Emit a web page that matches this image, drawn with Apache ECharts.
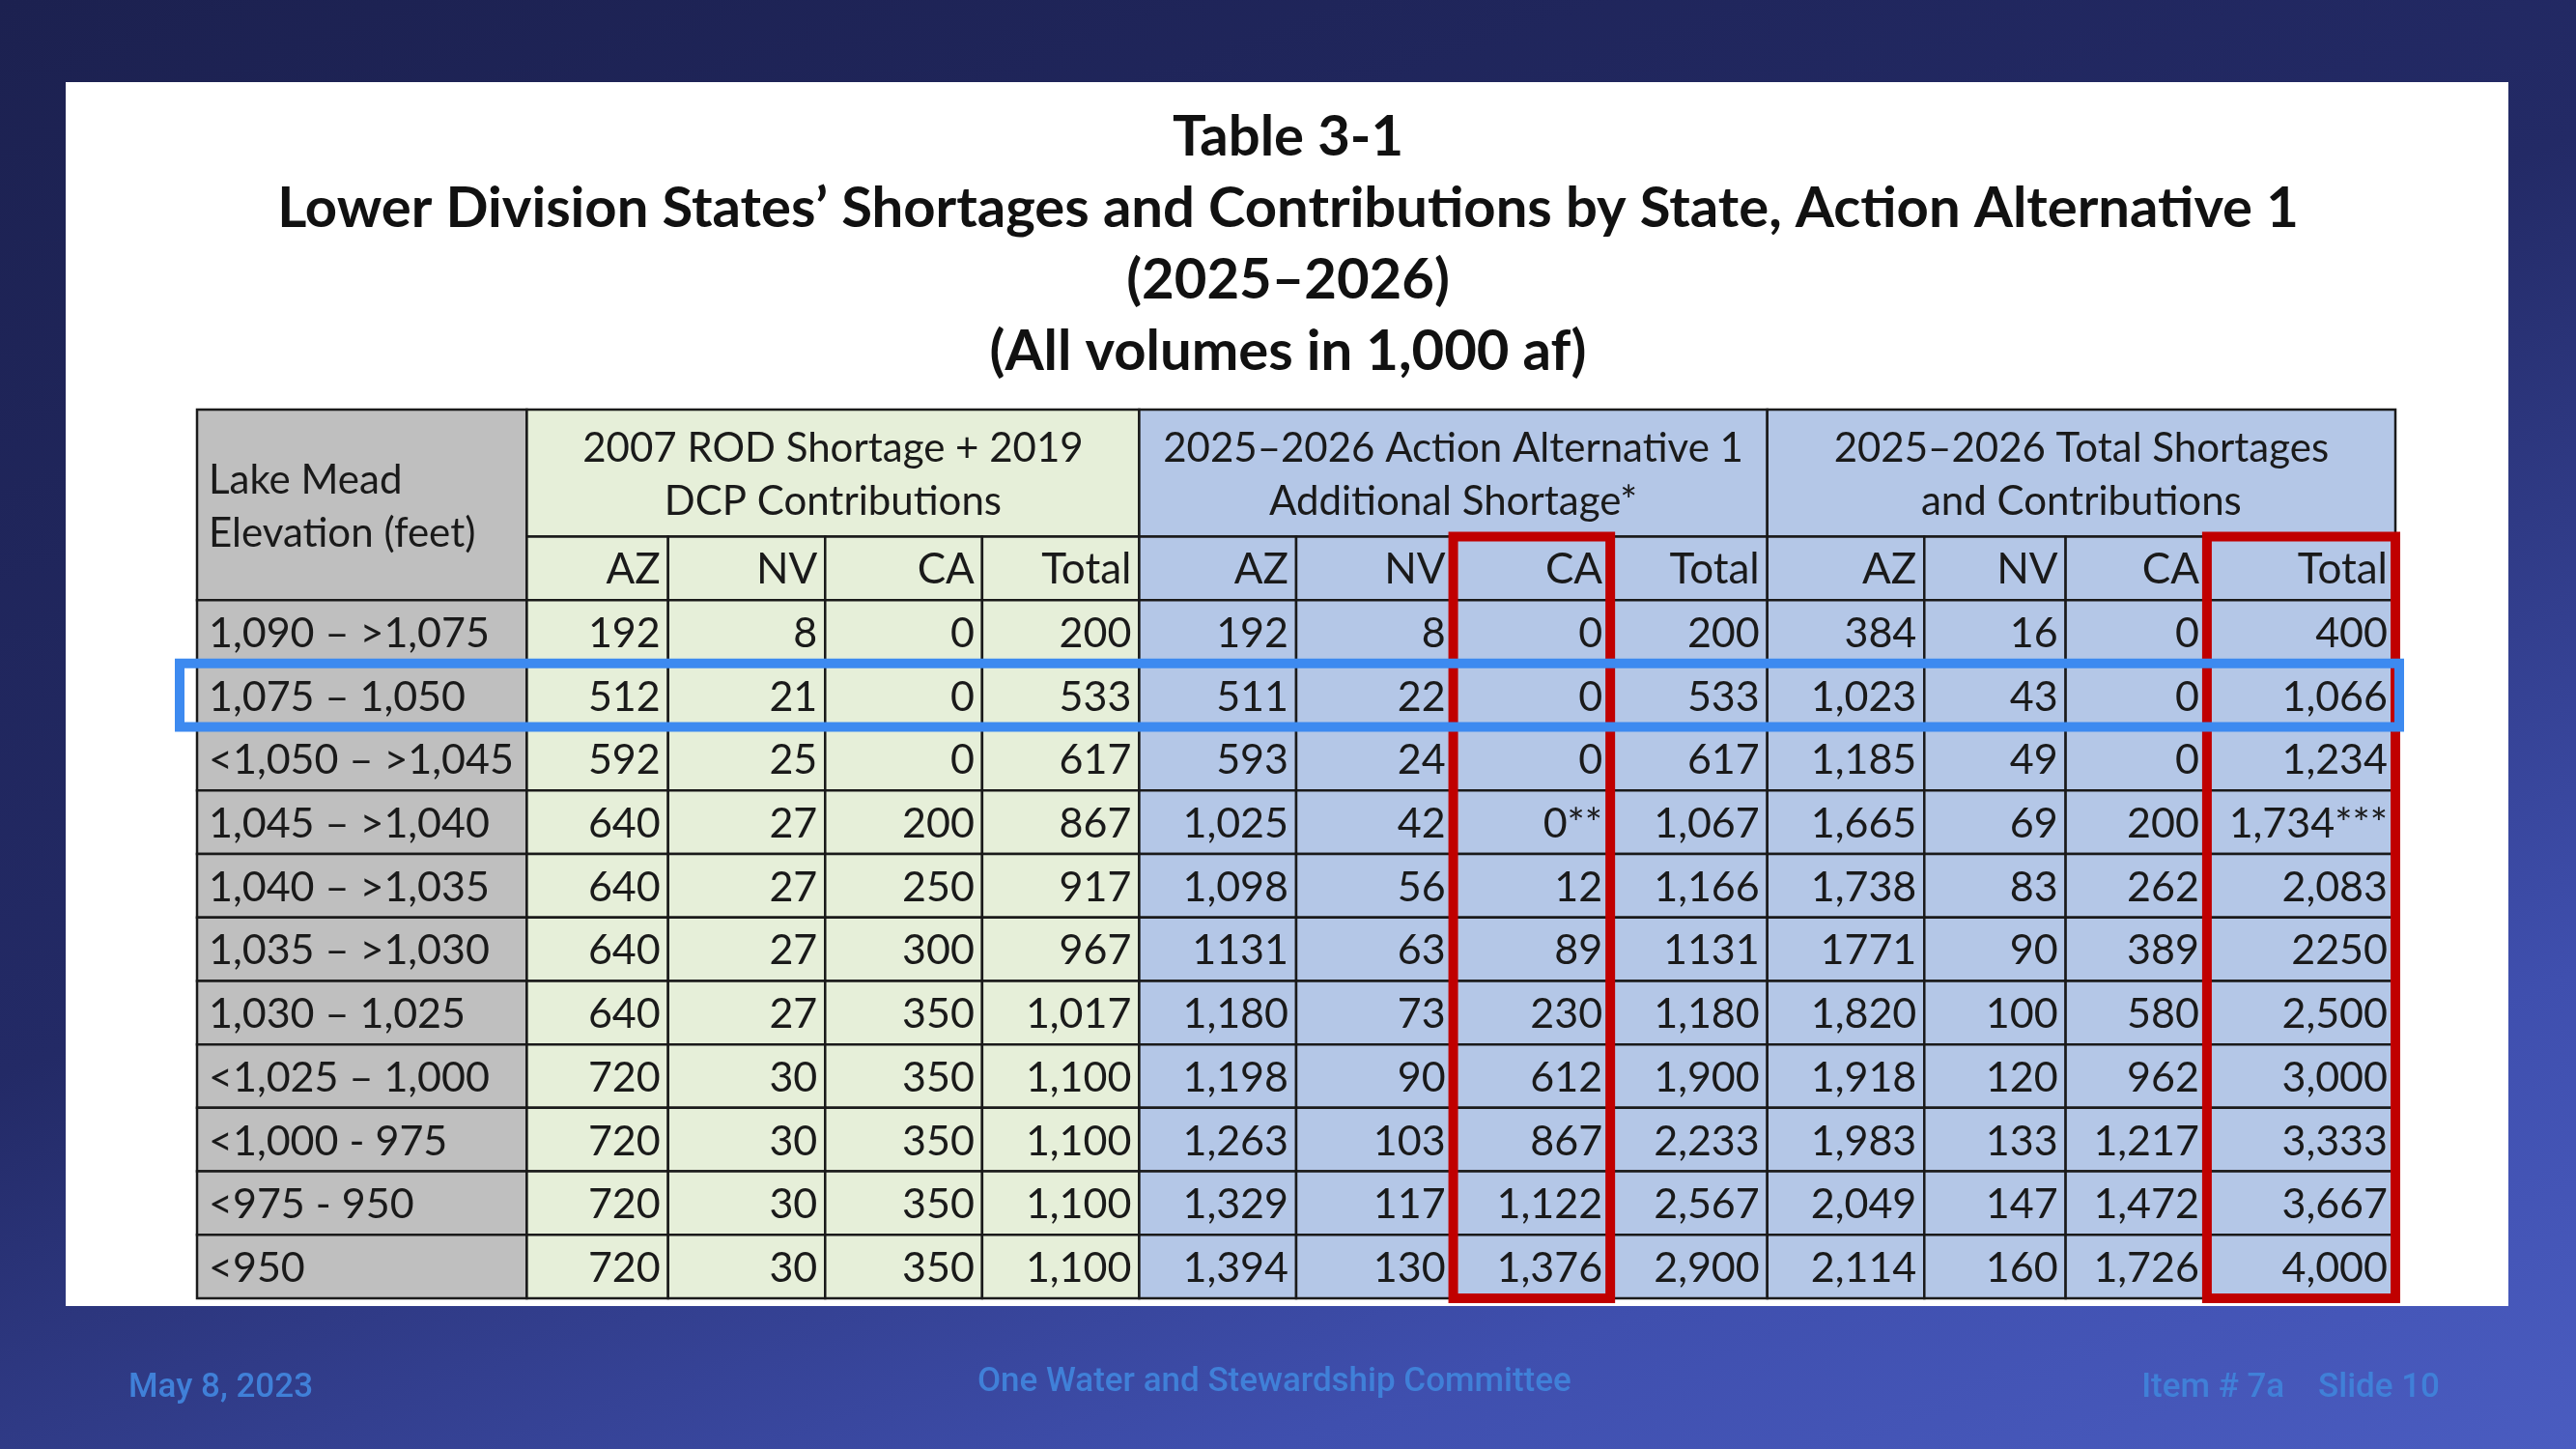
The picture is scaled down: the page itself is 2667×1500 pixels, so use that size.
<!DOCTYPE html>
<html>
<head>
<meta charset="utf-8">
<script src="https://cdn.jsdelivr.net/npm/echarts@6/dist/echarts.min.js"></script>
<style>
html,body{margin:0;padding:0;width:2667px;height:1500px;overflow:hidden;
background:linear-gradient(160deg,#1c2150 0%,#232a66 45%,#3f4fae 80%,#4a5cc0 100%);}
#panel{position:absolute;left:68px;top:85px;width:2529px;height:1267px;background:#fff;}
#main{position:absolute;left:0;top:0;width:2667px;height:1500px;}
</style>
</head>
<body>
<div id="panel"></div>
<div id="main"></div>
<script>
var titleLines = ['Table 3-1', 'Lower Division States\u2019 Shortages and Contributions by State, Action Alternative 1', '(2025\u20132026)', '(All volumes in 1,000 af)'];
var groupHeads = ['2007 ROD Shortage + 2019\nDCP Contributions', '2025\u20132026 Action Alternative 1\nAdditional Shortage*', '2025\u20132026 Total Shortages\nand Contributions'];
var subHeads = ['AZ', 'NV', 'CA', 'Total'];
var elevations = ['1,090 \u2013 >1,075', '1,075 \u2013 1,050', '<1,050 \u2013 >1,045', '1,045 \u2013 >1,040', '1,040 \u2013 >1,035', '1,035 \u2013 >1,030', '1,030 \u2013 1,025', '<1,025 \u2013 1,000', '<1,000 - 975', '<975 - 950', '<950'];
var rodAZ = ['192', '512', '592', '640', '640', '640', '640', '720', '720', '720', '720'];
var rodNV = ['8', '21', '25', '27', '27', '27', '27', '30', '30', '30', '30'];
var rodCA = ['0', '0', '0', '200', '250', '300', '350', '350', '350', '350', '350'];
var rodTotal = ['200', '533', '617', '867', '917', '967', '1,017', '1,100', '1,100', '1,100', '1,100'];
var altAZ = ['192', '511', '593', '1,025', '1,098', '1131', '1,180', '1,198', '1,263', '1,329', '1,394'];
var altNV = ['8', '22', '24', '42', '56', '63', '73', '90', '103', '117', '130'];
var altCA = ['0', '0', '0', '0**', '12', '89', '230', '612', '867', '1,122', '1,376'];
var altTotal = ['200', '533', '617', '1,067', '1,166', '1131', '1,180', '1,900', '2,233', '2,567', '2,900'];
var totAZ = ['384', '1,023', '1,185', '1,665', '1,738', '1771', '1,820', '1,918', '1,983', '2,049', '2,114'];
var totNV = ['16', '43', '49', '69', '83', '90', '100', '120', '133', '147', '160'];
var totCA = ['0', '0', '0', '200', '262', '389', '580', '962', '1,217', '1,472', '1,726'];
var totTotal = ['400', '1,066', '1,234', '1,734***', '2,083', '2250', '2,500', '3,000', '3,333', '3,667', '4,000'];

var groups = [[rodAZ, rodNV, rodCA, rodTotal], [altAZ, altNV, altCA, altTotal], [totAZ, totNV, totCA, totTotal]];
var fills = ['#e6efd9', '#b4c7e7', '#b4c7e7'];
var gray = '#bfbfbf';

// column widths in narrow x-axis units (label column first)
var colUnits = [21, 9, 10, 10, 10, 10, 10, 10, 10, 10, 9, 9, 12];
var colStart = [0];
colUnits.forEach(function (u, k) { colStart.push(colStart[k] + u); });
var xCats = [];
for (var i = 0; i < colStart[colUnits.length]; i++) xCats.push('c' + i);
var yCats = [];
for (var j = 0; j < 14; j++) yCats.push('r' + j);

function span(c0, n) { return colStart[c0 + n] - colStart[c0]; }

// cells: [x, y, xSpan, ySpan, text, fill, align, size]
var cells = [];
cells.push([0, 0, colUnits[0], 3, 'Lake Mead\nElevation (feet)', gray, 'left', 42]);
groups.forEach(function (g, gi) {
    var c0 = 1 + gi * 4;
    cells.push([colStart[c0], 0, span(c0, 4), 2, groupHeads[gi], fills[gi], 'center', 42]);
    subHeads.forEach(function (s, si) {
        cells.push([colStart[c0 + si], 2, colUnits[c0 + si], 1, s, fills[gi], 'right', 44]);
    });
});
elevations.forEach(function (e, r) {
    cells.push([0, 3 + r, colUnits[0], 1, e, gray, 'left', 43]);
    groups.forEach(function (g, gi) {
        g.forEach(function (col, ci) {
            var c = 1 + gi * 4 + ci;
            cells.push([colStart[c], 3 + r, colUnits[c], 1, col[r], fills[gi], 'right', 43]);
        });
    });
});

// highlight boxes: [x, y, xSpan, ySpan, color]
var boxes = [
    [colStart[7], 2, colUnits[7], 12, '#c00000'],
    [colStart[12], 2, colUnits[12], 12, '#c00000'],
    [0, 4, colStart[13], 1, '#3d8af0']
];

function cellRect(api, x, y, xs, ys) {
    var p = api.coord([x, y]);
    var s = api.size([1, 1]);
    return { x: p[0] - s[0] / 2, y: p[1] - s[1] / 2, width: s[0] * xs, height: s[1] * ys };
}

var footFont = '500 35px "Roboto"';
var chart = echarts.init(document.getElementById('main'));
chart.setOption({
    animation: false,
    title: {
        text: titleLines.join('\n'),
        left: 'center',
        top: 100,
        textStyle: { fontFamily: 'Lato', fontWeight: 'bold', fontSize: 58, color: '#111', lineHeight: 74 }
    },
    grid: { left: 204, right: 187, top: 424, bottom: 156 },
    xAxis: { type: 'category', data: xCats, show: false },
    yAxis: { type: 'category', data: yCats, inverse: true, show: false },
    graphic: [
        { type: 'text', left: 133, top: 1420, style: { text: 'May 8, 2023', fill: '#4080d8', font: footFont } },
        { type: 'text', left: 1012, top: 1414, style: { text: 'One Water and Stewardship Committee', fill: '#4080d8', font: footFont } },
        { type: 'text', right: 141, top: 1420, style: { text: 'Item # 7a    Slide 10', fill: '#4080d8', font: footFont } }
    ],
    series: [{
        type: 'custom',
        data: cells,
        renderItem: function (params, api) {
            var d = cells[params.dataIndex];
            var r = cellRect(api, d[0], d[1], d[2], d[3]);
            var tx = d[6] === 'left' ? r.x + 12 : d[6] === 'right' ? r.x + r.width - 8 : r.x + r.width / 2;
            return {
                type: 'group',
                children: [
                    { type: 'rect', shape: r, style: { fill: d[5], stroke: '#1a1a1a', lineWidth: 2.5 } },
                    { type: 'text', style: { text: d[4], x: tx, y: r.y + r.height / 2 + 2, align: d[6], verticalAlign: 'middle',
                        fill: '#1a1a1a', font: d[7] + 'px "Lato"', lineHeight: 55 } }
                ]
            };
        }
    }, {
        type: 'custom',
        data: boxes,
        z: 5,
        renderItem: function (params, api) {
            var d = boxes[params.dataIndex];
            var r = cellRect(api, d[0], d[1], d[2], d[3]);
            if (d[2] > 20) { r.x -= 18; r.width += 22; }
            return { type: 'rect', shape: r, style: { fill: 'none', stroke: d[4], lineWidth: 10 } };
        }
    }]
});
</script>
</body>
</html>
